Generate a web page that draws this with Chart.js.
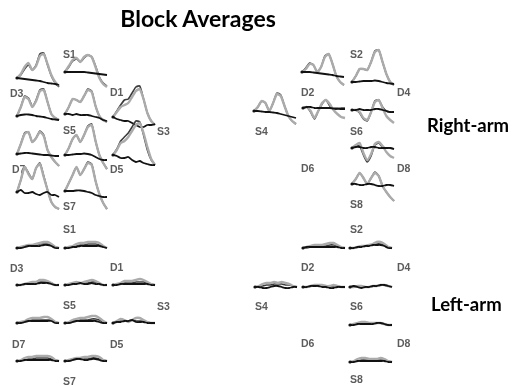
<!DOCTYPE html>
<html>
<head>
<meta charset="utf-8">
<script src="https://cdn.jsdelivr.net/npm/chart.js@4.4.1/dist/chart.umd.min.js"></script>
<style>
  html, body { margin: 0; padding: 0; background: #fff; }
  #page { position: relative; width: 517px; height: 386px; overflow: hidden; background: #fff; }
  canvas.trace { position: absolute; }
  .optode { position: absolute; font-family: "Liberation Sans", Arial, sans-serif; font-size: 10.5px; font-weight: 700; line-height: 11px; color: #5c5c5c; white-space: nowrap; filter: grayscale(1); }
  .heading { position: absolute; font-family: Lato, "Open Sans", sans-serif; font-weight: 700; color: #000; white-space: nowrap; line-height: 1; filter: grayscale(1); }
</style>
</head>
<body>
<div id="page">
  <div class="heading" style="left:198px; top:7px; font-size:23px; transform:translateX(-50%);">Block Averages</div>
  <div class="heading" style="left:427px; top:116px; font-size:18.5px;">Right-arm</div>
  <div class="heading" style="left:431px; top:295px; font-size:18.5px;">Left-arm</div>
</div>
<script>
// Time axis of each block average (s)
const timeSec = [0, 2, 4, 6, 8, 10, 12, 14, 16, 18, 20, 22];

// Source-detector channels, left hemisphere first, then right hemisphere
const channels = ['S1-D3', 'S1-D1', 'S5-D3', 'S5-D1', 'S3-D1', 'S5-D7', 'S5-D5', 'S3-D5', 'S7-D7', 'S7-D5',
                  'S2-D2', 'S2-D4', 'S4-D2', 'S6-D2', 'S6-D4', 'S6-D8', 'S8-D8'];

// Right-arm task: oxy-, total and deoxy-haemoglobin per channel
const rightArmHbO = [
  [0, 4, 11, 15, 8, 12, 22, 24, 14, 3, -4, -8],
  [0, 6, 12, 14, 10, 15, 17, 15, 5, -6, -12, -15],
  [0, 9, 19, 17, 9, 15, 25, 26, 14, 2, -2, -4],
  [0, 7, 15, 14, 12, 18, 24, 22, 8, -2, -6, -8],
  [0, 5, 10, 12, 14, 20, 26, 28, 18, 4, -4, -8],
  [0, 10, 20, 22, 12, 16, 22, 18, 4, -3, -8, -12],
  [0, 7, 16, 20, 13, 20, 28, 30, 14, 0, -8, -14],
  [0, 5, 12, 14, 18, 24, 30, 32, 22, 8, -4, -10],
  [0, 12, 25, 18, 13, 24, 28, 15, 2, -10, -15, -17],
  [0, 8, 16, 24, 16, 22, 28, 26, 10, -3, -12, -18],
  [0, 3, 8, 7, 0, 5, 15, 18, 8, -4, -10, -13],
  [0, 6, 13, 13, 12, 20, 30, 32, 20, 8, 0, -3],
  [0, 4, 10, 8, 0, 8, 17, 15, 5, -5, -10, -13],
  [0, 1, -3, -10, -3, 5, 8, 4, -2, -6, -9, -10],
  [0, 0, -2, -8, -10, -2, 8, 10, 2, -6, -10, -13],
  [0, 3, 5, -5, -12, -6, 4, 6, 2, -4, -8, -10],
  [0, 5, 11, 6, 0, 6, 11, 8, -2, -8, -13, -17]
];
const rightArmHbT = [
  [0, 3, 9, 13, 8, 13, 24, 25, 13, 2, -5, -9],
  [0, 5, 11, 13, 10, 14, 17, 15, 6, -5, -11, -14],
  [0, 9, 20, 18, 10, 16, 26, 27, 14, 2, -2, -4],
  [0, 7, 15, 14, 12, 18, 25, 23, 8, -2, -6, -8],
  [0, 6, 12, 17, 18, 24, 30, 31, 18, 4, -4, -8],
  [0, 10, 21, 22, 12, 16, 23, 19, 4, -3, -8, -12],
  [0, 7, 16, 20, 13, 20, 29, 31, 14, 0, -8, -14],
  [0, 6, 14, 18, 22, 28, 34, 33, 20, 5, -5, -10],
  [0, 12, 25, 19, 13, 24, 29, 16, 2, -10, -15, -17],
  [0, 8, 16, 24, 16, 22, 29, 27, 10, -3, -12, -18],
  [0, 4, 9, 7, 0, 5, 16, 18, 8, -4, -10, -13],
  [0, 6, 13, 13, 12, 20, 31, 32, 20, 8, 0, -3],
  [0, 4, 10, 8, 0, 8, 18, 16, 5, -5, -10, -13],
  [0, 1, -4, -11, -3, 4, 8, 2, -1, -1, 0, 0],
  [0, 0, -3, -9, -11, -2, 9, 10, 3, -1, -2, -2],
  [0, 2, 2, -7, -14, -8, 3, 5, 1, 0, 0, -1],
  [0, 5, 11, 6, 0, 6, 12, 8, -2, -8, -13, -17]
];
const rightArmHbR = [
  [0, -0.5, -1, -1.5, -2, -2.5, -3, -4, -5, -5.5, -6, -7],
  [0, 0, 0, 0, 0, 0, -0.5, -1, -1.5, -2, -2.5, -3],
  [0, 1, 1.5, 1.5, 1, 0, -0.5, -1, -2, -3, -3.5, -4],
  [0, 0, -1, 0, -1, -1, -1, -2, -3, -4, -6, -7],
  [0, -2, -3, -4, -4, -6, -8, -10, -10, -8, -8, -7],
  [0, 0.5, 1, 1, 0.5, 0, -0.5, -1, -1, -1.5, -2, -2],
  [0, 0, 0.5, 1, 1, 1.5, 1, 0, -2, -4, -5, -5],
  [0, -1, -3, -3, -2, -5, -7, -6, -8, -9, -10, -10],
  [0, 2, -1, -1, 0, -2, -3, -1, 0, -3, -3, -5],
  [0, 0, 0, 0.5, 0.5, 0, -1, -2, -4, -5, -6, -6],
  [0, 0, 0, -0.5, -1, -1.5, -2, -2.5, -3, -4, -4.5, -5],
  [0, 0, 0.5, 1, 1, 1, 1.5, 1, 0, -1, -1.5, -2],
  [0, 0, -0.5, -1, -1, -1.5, -2, -3, -4, -5, -6, -7],
  [0, 1, 1, 0, 0, 0, 0, 0, -0.5, -0.5, -1, -1],
  [0, 0, 1, 0, 0, 0, 1, 1, 0, -1, -2, -2],
  [0, 1, 1, 0, 0, 1, 1, 0, 0, 0, 0, -1],
  [0, 0, -1, -1, 0, 0, -1, -2, -2, -1, -1, -2]
];

// Left-arm task: same channels
const leftArmHbO = [
  [0, 1, 2, 3, 3, 4, 5, 6, 6, 4, 1, 0],
  [0, 1, 2, 4, 5, 5, 6, 6, 6, 5, 2, 0],
  [0, 0, 1, 2, 3, 3, 5, 5, 4, 2, 0, 0],
  [0, 1, 2, 3, 2, 3, 4, 5, 4, 2, 0, 0],
  [0, 1, 2, 4, 4, 4, 5, 6, 5, 3, 1, 0],
  [0, 1, 2, 4, 5, 5, 5, 6, 6, 4, 1, 0],
  [0, 1, 3, 4, 5, 5, 6, 7, 7, 5, 2, 0],
  [0, 2, 4, 3, 1, 3, 5, 5, 3, 1, 0, 0],
  [0, 1, 3, 4, 4, 5, 5, 5, 5, 4, 1, 0],
  [0, 1, 2, 3, 3, 4, 4, 5, 5, 4, 1, 0],
  [0, 1, 2, 3, 3, 3, 4, 5, 5, 3, 1, 0],
  [0, 0, 1, 2, 2, 3, 4, 6, 6, 4, 1, 0],
  [0, 1, 3, 4, 4, 5, 4, 5, 4, 3, 1, 0],
  [0, 0, 1, 2, 2, 2, 1, 1, 2, 1, 0, 0],
  [0, 0, 1, 1, 0, 0, 1, 1, 2, 2, 1, 0],
  [0, 1, 2, 3, 3, 2, 2, 2, 2, 1, 0, 0],
  [0, 1, 3, 4, 4, 3, 3, 3, 4, 3, 1, 0]
];
const leftArmHbT = [
  [0, 1, 1, 2, 3, 3, 4, 4, 4, 3, 1, 0],
  [0, 0, 1, 2, 3, 3, 4, 4, 4, 3, 1, 0],
  [0, 0, 1, 1, 2, 2, 3, 3, 3, 2, 0, 0],
  [0, 0, 1, 2, 2, 2, 2, 3, 3, 1, 0, 0],
  [0, 0, 1, 2, 2, 2, 3, 3, 3, 2, 1, 0],
  [0, 1, 1, 2, 3, 3, 3, 3, 3, 3, 1, 0],
  [0, 0, 1, 2, 3, 3, 3, 4, 4, 3, 1, 0],
  [0, 1, 2, 2, 2, 3, 2, 2, 2, 1, 0, 0],
  [0, 0, 1, 2, 2, 3, 3, 3, 3, 2, 1, 0],
  [0, 0, 1, 2, 2, 2, 2, 3, 3, 2, 1, 0],
  [0, 0, 1, 2, 2, 2, 2, 3, 3, 2, 0, 0],
  [0, 0, 1, 2, 2, 3, 3, 4, 4, 3, 1, 0],
  [0, 0, 1, 2, 2, 3, 3, 3, 2, 2, 1, 0],
  [0, 0, 1, 1, 1, 1, 0, 0, 1, 1, 0, 0],
  [0, 1, 0, 0, 0, 0, 1, 1, 2, 2, 1, 0],
  [0, 0, 1, 2, 2, 1, 1, 2, 2, 1, 0, 0],
  [0, 0, 1, 2, 2, 2, 2, 2, 2, 2, 1, 0]
];
const leftArmHbR = [
  [0, 0, 1, 2, 2, 2, 2, 3, 3, 2, 0, 0],
  [0, 0, 1, 1, 2, 2, 2, 2, 2, 2, 1, 0],
  [0, 0, 1, 1, 1, 1, 2, 2, 2, 1, 0, 0],
  [0, 0, 1, 1, 2, 1, 1, 2, 1, 1, 0, 0],
  [0, 0, 1, 1, 1, 1, 1, 1, 1, 1, 0, 0],
  [0, 0, 1, 2, 2, 2, 2, 2, 2, 2, 0, 0],
  [0, 0, 1, 2, 2, 2, 2, 2, 2, 1, 0, 0],
  [0, 1, 1, 2, 2, 3, 1, 1, 1, 0, 0, 0],
  [0, 0, 1, 1, 1, 1, 1, 1, 1, 1, 0, 0],
  [0, 0, 1, 2, 2, 1, 1, 2, 2, 1, 0, 0],
  [0, 1, 1, 1, 1, 1, 1, 1, 1, 1, 0, 0],
  [0, 0, 1, 1, 2, 2, 3, 3, 3, 2, 0, 0],
  [0, 0, -1, -1, 0, 1, 1, 0, -1, -1, 0, 0],
  [0, 0, 1, 1, 1, 0, 0, -1, -1, 0, 0, 0],
  [0, 1, 0, -1, 0, 0, 1, 1, 2, 2, 1, 0],
  [0, 0, 1, 1, 1, 1, 1, 2, 2, 1, 0, 0],
  [0, 0, 1, 1, 1, 1, 1, 1, 1, 1, 0, 0]
];

// Optode labels of one montage: [name, left, top] relative to the montage
const optodes = [
  ['S1', 63, 0], ['D3', 10, 39], ['D1', 110, 38], ['S5', 63, 76], ['S3', 157, 77],
  ['D7', 12, 115], ['D5', 110, 115], ['S7', 63, 152],
  ['S2', 350, 0], ['D2', 301, 38], ['D4', 397, 38], ['S4', 255, 77], ['S6', 350, 77],
  ['D6', 301, 114], ['D8', 397, 114], ['S8', 350, 150]
];
// Where each channel's trace starts (left edge, baseline), relative to its montage
const rightArmAnchor = [
  [17, 28], [65, 22], [17, 66], [65, 64], [113, 67], [17, 104], [65, 105], [113, 105], [17, 142], [65, 141],
  [302, 22], [352, 32], [254, 61], [303, 58], [352, 60], [352, 98], [352, 134]
];
const leftArmAnchor = [
  [17, 23], [65, 23], [17, 60], [65, 60], [113, 60], [17, 98], [65, 98], [113, 98], [17, 136], [65, 136],
  [303, 23], [350, 23], [255, 62], [303, 62], [350, 62], [350, 100], [350, 137]
];

const page = document.getElementById('page');
const TRACE_W = 42, PAD = 6, Y_MIN = -25, Y_MAX = 40;

function drawMontage(originY, anchors, hbo, hbt, hbr) {
  optodes.forEach(([name, x, y]) => {
    const d = document.createElement('div');
    d.className = 'optode';
    d.textContent = name;
    d.style.left = x + 'px';
    d.style.top = (originY + y - 1) + 'px';
    page.appendChild(d);
  });
  channels.forEach((ch, i) => {
    const [ax, ay] = anchors[i];
    const cv = document.createElement('canvas');
    cv.className = 'trace';
    cv.width = TRACE_W + 2 * PAD;
    cv.height = (Y_MAX - Y_MIN) + 2 * PAD;
    cv.style.width = cv.width + 'px';
    cv.style.height = cv.height + 'px';
    cv.style.left = (ax - PAD) + 'px';
    cv.style.top = (originY + ay - Y_MAX - PAD) + 'px';
    page.appendChild(cv);
    new Chart(cv, {
      type: 'line',
      data: {
        labels: timeSec,
        datasets: [
          { label: ch + ' HbR', data: hbr[i], borderColor: '#121212', borderWidth: 1.8, order: 0,
            pointRadius: c => c.dataIndex === 0 ? 1.6 : 0, pointBackgroundColor: '#121212', pointBorderWidth: 0 },
          { label: ch + ' HbO', data: hbo[i], borderColor: '#ababab', borderWidth: 2.4, order: 1, pointRadius: 0 },
          { label: ch + ' HbT', data: hbt[i], borderColor: '#3c3c3c', borderWidth: 1.6, order: 2, pointRadius: 0 }
        ]
      },
      options: {
        responsive: false,
        animation: false,
        events: [],
        layout: { padding: PAD },
        elements: { line: { tension: 0.2, fill: false } },
        datasets: { line: { clip: false } },
        plugins: { legend: { display: false }, tooltip: { enabled: false }, title: { display: false } },
        scales: {
          x: { type: 'category', display: false, offset: false },
          y: { type: 'linear', display: false, min: Y_MIN, max: Y_MAX }
        }
      }
    });
  });
}

drawMontage(50, rightArmAnchor, rightArmHbO, rightArmHbT, rightArmHbR);
drawMontage(225, leftArmAnchor, leftArmHbO, leftArmHbT, leftArmHbR);
</script>
</body>
</html>
